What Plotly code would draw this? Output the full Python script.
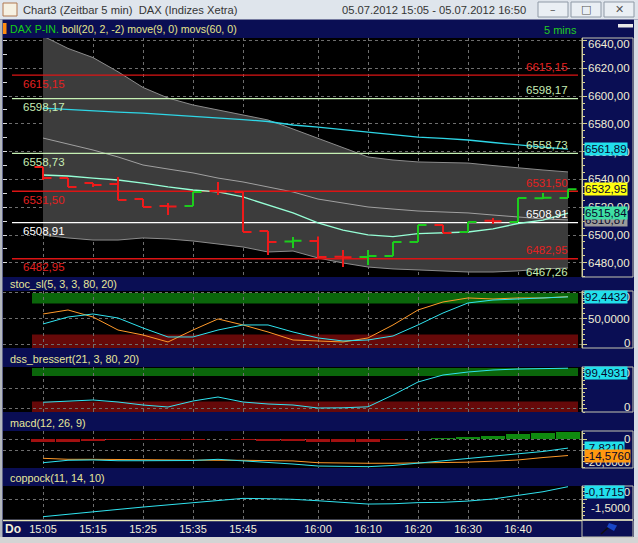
import plotly.graph_objects as go
import pandas as pd

W, H = 638, 543
FONT = "Liberation Sans, Arial, sans-serif"

# ---------------- data ----------------
bar_times = list(pd.date_range("2012-07-05 15:05", periods=22, freq="5min"))
bar_open = [6549.0, 6541.0, 6537.4, 6536.7, 6525.9, 6520.9, 6520.9, 6531.7, 6531.0, 6502.9, 6495.4,
            6495.7, 6484.4, 6484.2, 6485.0, 6495.0, 6507.2, 6502.2, 6510.3, 6509.4, 6526.4, 6526.6]
bar_high = [6549.0, 6541.0, 6537.4, 6541.8, 6525.9, 6523.1, 6531.0, 6538.2, 6531.0, 6502.9, 6498.6,
            6499.0, 6489.3, 6489.3, 6495.0, 6507.2, 6507.2, 6509.4, 6512.3, 6526.6, 6530.2, 6532.95]
bar_low = [6539.6, 6534.6, 6534.6, 6525.2, 6520.2, 6514.4, 6520.9, 6528.8, 6502.2, 6485.7, 6490.7,
           6483.5, 6477.0, 6478.5, 6485.0, 6495.0, 6501.5, 6502.2, 6508.0, 6509.4, 6525.9, 6526.6]
bar_close = [6541.0, 6534.6, 6536.0, 6525.2, 6520.2, 6520.6, 6531.0, 6531.4, 6502.2, 6495.0, 6495.8,
             6484.2, 6484.1, 6485.0, 6495.0, 6507.2, 6501.5, 6509.4, 6510.0, 6526.6, 6526.8, 6532.95]

boll_upper = [6643.2, 6634.3, 6627.7, 6617.5, 6606.2, 6598.6, 6593.6, 6590.0, 6586.4, 6582.8, 6576.3,
              6569.5, 6562.6, 6556.2, 6554.0, 6552.6, 6552.2, 6551.8, 6550.0, 6548.2, 6546.8, 6545.4]
boll_mid = [6569.8, 6565.5, 6561.2, 6556.2, 6550.4, 6547.5, 6544.7, 6541.0, 6538.2, 6534.6, 6531.0,
            6525.9, 6523.1, 6520.2, 6518.7, 6517.3, 6516.6, 6515.9, 6514.4, 6513.0, 6511.6, 6510.87]
boll_lower = [6500.0, 6497.9, 6496.4, 6496.4, 6497.9, 6497.2, 6495.7, 6493.6, 6491.4, 6487.8, 6488.5,
              6483.5, 6479.9, 6477.0, 6475.6, 6474.9, 6474.2, 6473.4, 6473.4, 6474.2, 6475.6, 6476.3]
move9 = [6543.2, 6542.5, 6541.0, 6539.6, 6537.4, 6534.6, 6532.4, 6531.0, 6527.4, 6521.6, 6515.9,
         6508.7, 6503.6, 6500.1, 6498.8, 6501.0, 6501.8, 6502.2, 6504.4, 6508.3, 6510.8, 6515.84]
movs60 = [6591.4, 6590.3, 6589.2, 6588.5, 6587.8, 6586.7, 6585.3, 6584.2, 6583.1, 6581.7, 6579.2,
          6577.7, 6575.9, 6574.1, 6572.3, 6570.5, 6569.5, 6568.4, 6566.6, 6564.8, 6563.3, 6561.89]

level_values = [6615.15, 6598.17, 6558.73, 6531.50, 6508.91, 6482.95, 6467.26]
level_text = ["6615,15", "6598,17", "6558,73", "6531,50", "6508,91", "6482,95", "6467,26"]

stoc_k = [59.6, 67.3, 53.8, 28.8, 19.2, 5.8, 28.8, 50.0, 38.5, 25.0, 9.6,
          7.7, 5.8, 13.5, 38.5, 67.3, 82.7, 90.4, 88.5, 90.4, 90.4, 93.0]
stoc_d = [40.4, 53.8, 59.6, 51.9, 32.7, 15.4, 15.4, 28.8, 38.5, 38.5, 25.0,
          13.5, 7.7, 9.6, 17.3, 38.5, 61.5, 80.8, 86.5, 88.5, 90.4, 92.4432]
dss = [14.3, 17.5, 20.0, 15.0, 7.5, 2.5, 17.5, 27.5, 15.0, 10.0, 7.5,
       0.0, 0.5, 3.0, 32.5, 65.0, 82.5, 90.0, 95.0, 97.5, 99.0, 99.4931]
macd_line = [-21.1, -18.9, -18.6, -19.3, -19.3, -19.3, -19.1, -18.0, -19.3, -21.1, -22.3,
             -24.1, -24.5, -24.7, -23.6, -21.4, -19.1, -17.1, -15.0, -12.7, -10.9, -7.821]
macd_signal = [-17.1, -18.0, -18.0, -18.2, -18.6, -19.1, -19.1, -18.9, -18.9, -19.1, -19.5,
               -21.1, -21.6, -21.6, -21.6, -21.4, -21.1, -20.6, -19.7, -18.6, -16.4, -14.576]
macd_hist = [-2.5, -2.4, -1.5, -0.8, -0.5, -0.4, -0.3, 0.4, -0.3, -1.4, -1.6,
             -2.6, -2.7, -2.6, -0.5, 0.4, 1.2, 2.0, 3.2, 5.4, 6.0, 6.8]
coppock = [-2.07, -1.93, -1.77, -1.61, -1.46, -1.33, -1.20, -1.04, -0.91, -0.93, -0.97,
           -1.06, -1.16, -1.27, -1.25, -1.18, -1.16, -1.08, -0.95, -0.70, -0.49, -0.1715]

stoc_zones = [(80, 100), (None, 20)]
dss_zones = [(80, 100), (None, 16)]

price_tick_values = [6640, 6620, 6600, 6580, 6560, 6540, 6520, 6500, 6480]
price_tick_text = ["6640,00", "6620,00", "6600,00", "6580,00", "6560,00", "6540,00", "6520,00", "6500,00", "6480,00"]
stoc_tick_values = [100, 50, 0]
stoc_tick_text = ["100,0000", "50,0000", "0"]
dss_tick_values = [100, 0]
dss_tick_text = ["100,0000", "0"]
macd_tick_values = [0, -20]
macd_tick_text = ["0", "-20,0000"]
coppock_tick_values = [0, -1.5]
coppock_tick_text = ["0,0000", "-1,5000"]
time_tick_text = ["15:05", "15:15", "15:25", "15:35", "15:45", "16:00", "16:10", "16:20", "16:30", "16:40"]

# ---------------- geometry / style ----------------
def px(x):
    return x / W


def py(y):
    return 1 - y / H


NAVY = "#0a0e54"
AXC = "#d8d28e"
GRID = "#6e6e6e"
LBL = "#f2eed6"
CYAN = "#30e4f0"
ORANGE = "#ff9a2a"

dom_main = [py(277), py(38)]
dom_stoc = [py(348), py(291)]
dom_dss = [py(412), py(367)]
dom_macd = [py(468), py(431)]
dom_copp = [py(519.5), py(486)]

rng_main = [6469.8, 6641.8]
rng_stoc = [-5.8, 103.8]
rng_dss = [-10.0, 102.5]
rng_macd = [-25.9, 7.7]
rng_copp = [-2.247, -0.127]

step = pd.Timedelta(minutes=5)
x_range = [bar_times[0] - step * 1.6, bar_times[-1] + step * 0.56]
level_x = [bar_times[0] - step * 1.24, bar_times[-1] + step * 0.4]
zone_x = [bar_times[0] - step * 0.44, bar_times[-1] + step * 0.4]

level_line_colors = ["#dc1414", "#c6f0b4", "#c6f0b4", "#dc1414", "#ffffff", "#dc1414", "#c6f0b4"]
level_text_colors = ["#e42020", "#c6ecb4", "#c6ecb4", "#e42020", "#ffffff", "#e42020", "#c6ecb4"]


def to_paper(v, dom, rng):
    return dom[0] + (v - rng[0]) / (rng[1] - rng[0]) * (dom[1] - dom[0])


fig = go.Figure()

# ---- main price panel ----
fig.add_trace(go.Scatter(x=bar_times, y=boll_upper, mode="lines", line=dict(color="#8c8c8c", width=1),
                         yaxis="y", hoverinfo="skip"))
fig.add_trace(go.Scatter(x=bar_times, y=boll_lower, mode="lines", line=dict(color="#8c8c8c", width=1),
                         fill="tonexty", fillcolor="#3c3c3c", yaxis="y", hoverinfo="skip"))
fig.add_trace(go.Scatter(x=bar_times, y=boll_mid, mode="lines", line=dict(color="#a0a0a0", width=1), yaxis="y"))
for v, c in zip(level_values, level_line_colors):
    fig.add_trace(go.Scatter(x=level_x, y=[v, v], mode="lines", line=dict(color=c, width=1.3), yaxis="y",
                             hoverinfo="skip"))
fig.add_trace(go.Scatter(x=bar_times, y=movs60, mode="lines", line=dict(color="#2ed6e6", width=1.3), yaxis="y"))
fig.add_trace(go.Scatter(x=bar_times, y=move9, mode="lines", line=dict(color="#96ffd6", width=1.3), yaxis="y"))
# OHLC bars on an overlaying axis so they are drawn above the band fill
fig.add_trace(go.Ohlc(x=bar_times, open=bar_open, high=bar_high, low=bar_low, close=bar_close,
                      increasing=dict(line=dict(color="#1ccc1c", width=2)),
                      decreasing=dict(line=dict(color="#ee1a1a", width=2)),
                      tickwidth=0.34, yaxis="y6"))

# ---- stochastic ----
fig.add_trace(go.Scatter(x=bar_times, y=stoc_k, mode="lines", line=dict(color=ORANGE, width=1), yaxis="y2"))
fig.add_trace(go.Scatter(x=bar_times, y=stoc_d, mode="lines", line=dict(color=CYAN, width=1), yaxis="y2"))
# ---- dss ----
fig.add_trace(go.Scatter(x=bar_times, y=dss, mode="lines", line=dict(color=CYAN, width=1), yaxis="y3"))
# ---- macd ----
fig.add_trace(go.Bar(x=bar_times, y=macd_hist, width=step.total_seconds() * 1000 * 0.97,
                     marker=dict(color=["#0f8a0f" if v >= 0 else "#a21010" for v in macd_hist], line=dict(width=0)),
                     yaxis="y4"))
fig.add_trace(go.Scatter(x=bar_times, y=macd_signal, mode="lines", line=dict(color=ORANGE, width=1), yaxis="y4"))
fig.add_trace(go.Scatter(x=bar_times, y=macd_line, mode="lines", line=dict(color=CYAN, width=1), yaxis="y4"))
# ---- coppock ----
fig.add_trace(go.Scatter(x=bar_times, y=coppock, mode="lines", line=dict(color=CYAN, width=1), yaxis="y5"))

shapes = []
annotations = []

# zones (overbought / oversold)
for (lo, hi), col in zip(stoc_zones, ["#0b660b", "#660909"]):
    shapes.append(dict(type="rect", xref="x", yref="y2", x0=zone_x[0], x1=zone_x[1],
                       y0=rng_stoc[0] if lo is None else lo, y1=hi, fillcolor=col, line=dict(width=0),
                       layer="below"))
for (lo, hi), col in zip(dss_zones, ["#0b660b", "#660909"]):
    shapes.append(dict(type="rect", xref="x", yref="y3", x0=zone_x[0], x1=zone_x[1],
                       y0=rng_dss[0] if lo is None else lo, y1=hi, fillcolor=col, line=dict(width=0),
                       layer="below"))


def rect(x0, y0, x1, y1, fill=None, line=None, lw=1):
    shapes.append(dict(type="rect", xref="paper", yref="paper", x0=px(x0), x1=px(x1), y0=py(y1), y1=py(y0),
                       fillcolor=fill if fill else "rgba(0,0,0,0)",
                       line=dict(width=lw if line else 0, color=line if line else "rgba(0,0,0,0)"), layer="above"))


def ann(text, x, y, xanchor="left", color=LBL, size=11, bg=None, family=FONT, yanchor="middle"):
    d = dict(text=text, x=x, y=y, xref="paper", yref="paper", xanchor=xanchor, yanchor=yanchor,
             showarrow=False, font=dict(color=color, size=size, family=family), borderpad=0)
    if bg:
        d["bgcolor"] = bg
    annotations.append(d)


# window chrome
rect(0, 0, 638, 19.5, fill="#dfe5ec")
rect(0, 19.5, 2.5, 537, fill="#b4b8bd")
rect(634, 19.5, 638, 537, fill="#d6dce3")
rect(0, 537, 638, 543, fill="#d4d4d4")
rect(3, 3, 17, 16, fill="#f6f1e2", line="#b07850")
for bx0, sym in [(538, "\u2013"), (571, "\u25a1"), (604, "\u2715")]:
    rect(bx0, 2, bx0 + 30, 17, fill="#eaeff4", line="#8e99a6")
    ann(sym, px(bx0 + 15), py(9.5), xanchor="center", color="#555555", size=11, family="DejaVu Sans")
ann("Chart3 (Zeitbar 5 min)\u00a0\u00a0DAX (Indizes Xetra)", px(22), py(10), color="#353535", size=11.2)
ann("05.07.2012 15:05 - 05.07.2012 16:50", px(527), py(10), xanchor="right", color="#353535", size=11.2)

# panel header texts
rect(3, 23, 6.5, 34, fill="#ff8c10")
rect(618, 24, 633, 27.5, fill="#e8e8e8")
ann("<span style='color:#14d014'>DAX P-IN.</span> boll(20, 2, -2) move(9, 0) movs(60, 0)", px(9), py(29),
    color="#e6e68a", size=10.6)
ann("5 mins", px(578), py(30), xanchor="right", color="#22cc22", size=11)
ann("stoc_sl(5, 3, 3, 80, 20)", px(9), py(284), color="#e6e69a", size=10.8)
ann("dss_bressert(21, 3, 80, 20)", px(9), py(359), color="#e6e69a", size=10.8)
ann("macd(12, 26, 9)", px(9), py(423), color="#e6e69a", size=10.8)
ann("coppock(11, 14, 10)", px(9), py(478), color="#e6e69a", size=10.8)

# right axis boxes
for (ya, yb) in [(38, 277), (291, 348), (367, 412), (431, 468), (486, 519.5), (520.5, 537)]:
    rect(582, ya, 633, yb, line="#c4c4b0", lw=1)
shapes.append(dict(type="line", xref="paper", yref="paper", x0=px(3), x1=px(582), y0=py(520.5), y1=py(520.5),
                   line=dict(color="#e6e6b4", width=1.5)))
# small pen/flag icon in the corner box
shapes.append(dict(type="line", xref="paper", yref="paper", x0=px(601), x1=px(611), y0=py(534), y1=py(525),
                   line=dict(color="#101010", width=1.5)))
shapes.append(dict(type="path", xref="paper", yref="paper",
                   path=f"M {px(609)} {py(523)} L {px(617)} {py(525.5)} L {px(614)} {py(531)} L {px(607)} {py(527)} Z",
                   fillcolor="#1846c8", line=dict(width=0)))

ann("<b>Do</b>", px(4), py(528.5), color="#f4f0d8", size=12)

# axis labels (right aligned)
for vals, texts, dom, rng in [(price_tick_values, price_tick_text, dom_main, rng_main),
                              (stoc_tick_values, stoc_tick_text, dom_stoc, rng_stoc),
                              (dss_tick_values, dss_tick_text, dom_dss, rng_dss),
                              (macd_tick_values, macd_tick_text, dom_macd, rng_macd),
                              (coppock_tick_values, coppock_tick_text, dom_copp, rng_copp)]:
    for v, t in zip(vals, texts):
        yp = to_paper(v, dom, rng)
        yp = min(max(yp, dom[0] + 5 / H), dom[1] - 6 / H)
        ann(t, px(631), yp, xanchor="right", color=LBL, size=11.5)


def fmt(v, d):
    return f"{v:.{d}f}".replace(".", ",")


def value_box(v, d, dom, rng, bg):
    yp = to_paper(v, dom, rng)
    yp = min(max(yp, dom[0] + 7 / H), dom[1] - 6 / H)
    ann(fmt(v, d), px(583.5), yp, xanchor="left", color="#06062a", size=11.5, bg=bg)


value_box(movs60[-1], 2, dom_main, rng_main, "#22e0ec")
value_box(bar_close[-1], 2, dom_main, rng_main, "#ffff10")
value_box(boll_mid[-1], 2, dom_main, rng_main, "#9a9a9a")
value_box(move9[-1], 2, dom_main, rng_main, "#3ee0a4")
value_box(stoc_d[-1], 4, dom_stoc, rng_stoc, "#22e0ec")
value_box(dss[-1], 4, dom_dss, rng_dss, "#22e0ec")
value_box(macd_line[-1], 4, dom_macd, rng_macd, "#22e0ec")
value_box(macd_signal[-1], 4, dom_macd, rng_macd, "#ff9810")
value_box(coppock[-1], 4, dom_copp, rng_copp, "#22e0ec")

# level labels (left below line, right above line)
for v, t, c in zip(level_values, level_text, level_text_colors):
    yp = to_paper(v, dom_main, rng_main)
    if rng_main[0] < v < rng_main[1]:
        ann(t, px(22), yp - 8.5 / H, color=c, size=11.5)
    ann(t, px(569), yp + 8.5 / H, xanchor="right", color=c, size=11.5)


def yax(dom, rng, gridvals, minor_dtick=None, dash="dot"):
    d = dict(domain=dom, range=rng, anchor="x", side="right", showline=True, linecolor=AXC, linewidth=1,
             ticks="outside", ticklen=4, tickcolor=AXC, tickmode="array", tickvals=gridvals,
             showticklabels=False, showgrid=True, gridcolor=GRID, griddash=dash, gridwidth=1,
             zeroline=False, fixedrange=True)
    if minor_dtick:
        d["minor"] = dict(tickmode="linear", dtick=minor_dtick, ticks="outside", ticklen=2, tickcolor=AXC,
                          showgrid=False)
    return d


def lax(over, rng, dtick):
    return dict(overlaying=over, range=rng, anchor="x", side="left", ticks="inside", ticklen=4,
                tickcolor="#d8d8d8", tickmode="linear", dtick=dtick, showticklabels=False, showgrid=False,
                zeroline=False, showline=False, fixedrange=True)


fig.update_layout(
    width=W, height=H, autosize=False,
    margin=dict(l=0, r=0, t=0, b=0, pad=0),
    paper_bgcolor=NAVY, plot_bgcolor="#000000",
    showlegend=False, bargap=0,
    font=dict(family=FONT, color=LBL),
    xaxis=dict(domain=[px(3), px(582)], range=x_range, anchor="y5", type="date",
               tickmode="array", tickvals=[pd.Timestamp("2012-07-05 " + t) for t in time_tick_text],
               ticktext=time_tick_text, showgrid=True, gridcolor=GRID, griddash="dot", gridwidth=1,
               ticks="", ticklabelstandoff=1, tickfont=dict(color="#f4f0d8", size=11, family=FONT),
               showline=False, zeroline=False, rangeslider=dict(visible=False), fixedrange=True),
    yaxis=yax(dom_main, rng_main, price_tick_values, minor_dtick=5),
    yaxis2=yax(dom_stoc, rng_stoc, stoc_tick_values, minor_dtick=10),
    yaxis3=yax(dom_dss, rng_dss, [100, 50, 0], minor_dtick=10),
    yaxis4=yax(dom_macd, rng_macd, [0, -10], minor_dtick=5),
    yaxis5=yax(dom_copp, rng_copp, [-1.0], minor_dtick=0.25),
    yaxis6=lax("y", rng_main, 10),
    yaxis7=lax("y2", rng_stoc, 12.5),
    yaxis8=lax("y3", rng_dss, 12.5),
    yaxis9=lax("y4", rng_macd, 5),
    yaxis10=lax("y5", rng_copp, 0.25),
    shapes=shapes,
    annotations=annotations,
)

fig.write_html("out.html", config={"displayModeBar": False, "staticPlot": True},
               post_script="document.body.style.margin='0';document.body.style.overflow='hidden';")
